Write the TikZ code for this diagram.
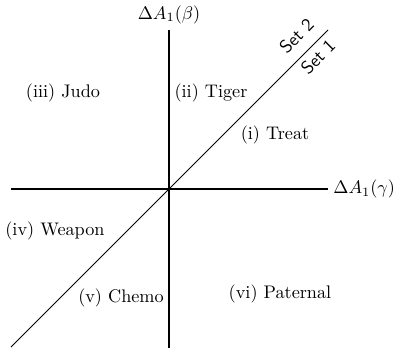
\documentclass[tikz,border=0pt]{standalone}
\begin{document}
\begin{tikzpicture}[x=0.549pt,y=-0.549pt,
  axis/.style={line width=1.4pt},
  diag/.style={line width=0.5pt},
  lbl/.style={inner sep=0pt},
  setlbl/.style={inner sep=0pt,font=\sffamily,rotate=45}]
\useasboundingbox (0,0) rectangle (395,350);
\coordinate (L) at (11,189);
\coordinate (R) at (328,189);
\coordinate (T) at (169,30);
\coordinate (B) at (169,348);
\coordinate (D1) at (11,347);
\coordinate (D2) at (328,30);
\draw[axis] (L) -- (R);
\draw[axis] (T) -- (B);
\draw[diag] (D1) -- (D2);
\node[lbl,anchor=south] (yl) at (169,24) {$\Delta A_1(\beta)$};
\node[lbl,anchor=west] (xl) at (333,189) {$\Delta A_1(\gamma)$};
\node[setlbl] (s2) at (296.5,36) {Set 2};
\node[setlbl] (s1) at (318,57) {Set 1};
\node[lbl] (judo) at (63,93) {(iii) Judo};
\node[lbl] (tiger) at (211,93) {(ii) Tiger};
\node[lbl] (treat) at (275,135) {(i) Treat};
\node[lbl] (weapon) at (55,231) {(iv) Weapon};
\node[lbl] (chemo) at (121,298) {(v) Chemo};
\node[lbl] (paternal) at (280,294) {(vi) Paternal};
\end{tikzpicture}
\end{document}
